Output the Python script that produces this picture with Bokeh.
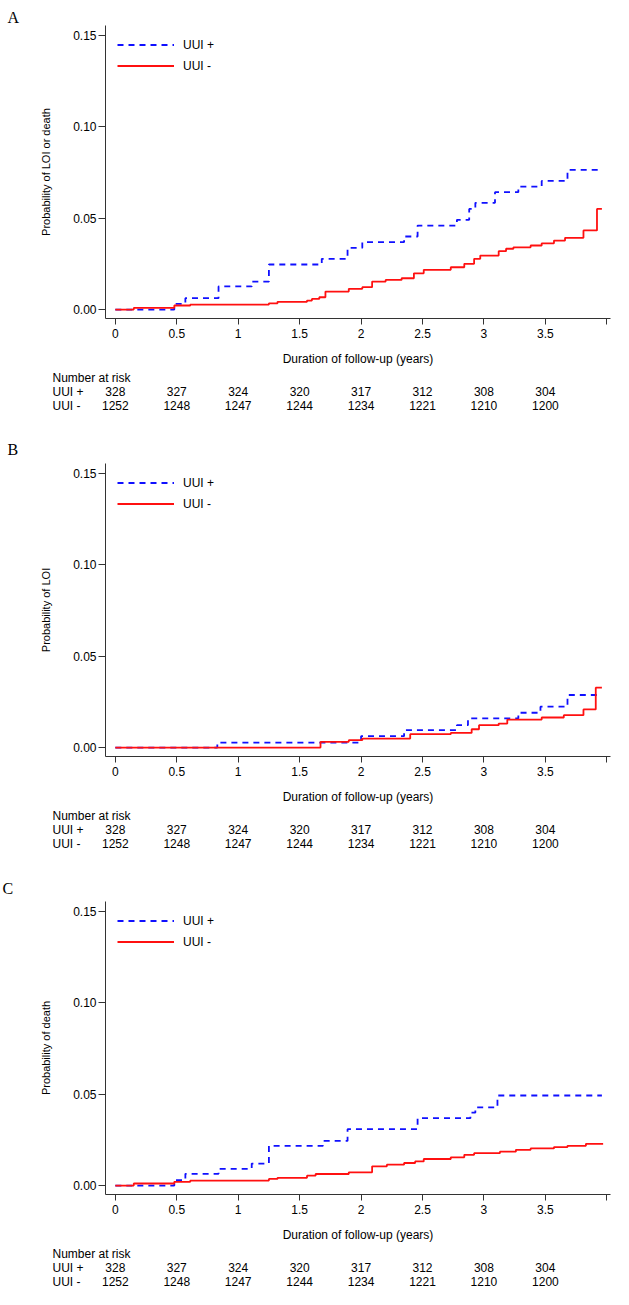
from bokeh.plotting import figure
from bokeh.models import Range1d, FixedTicker, Legend, LegendItem, Title
from bokeh.layouts import column
from bokeh.embed import file_html
from bokeh.resources import INLINE
from bokeh.core.properties import value

# ---------------- data ----------------
panel_letters = ["A", "B", "C"]
y_titles = ["Probability of LOI or death", "Probability of LOI", "Probability of death"]
x_title = "Duration of follow-up (years)"
legend_labels = ["UUI +", "UUI -"]

x_ticks = [0, 0.5, 1, 1.5, 2, 2.5, 3, 3.5, 4]
x_tick_labels = ["0", "0.5", "1", "1.5", "2", "2.5", "3", "3.5", ""]
y_ticks = [0, 0.05, 0.10, 0.15]
y_tick_labels = ["0.00", "0.05", "0.10", "0.15"]

risk_times = [0, 0.5, 1, 1.5, 2, 2.5, 3, 3.5]
risk_uui_pos = [328, 327, 324, 320, 317, 312, 308, 304]
risk_uui_neg = [1252, 1248, 1247, 1244, 1234, 1221, 1210, 1200]
risk_row_labels = ["Number at risk", "UUI +", "UUI -"]

# Panel A: LOI or death
a_pos_t = [0, 0.48, 0.57, 0.84, 1.11, 1.25, 1.68, 1.89, 2.01, 2.35, 2.46, 2.78, 2.88, 2.93, 3.09, 3.28, 3.47, 3.68, 3.96]
a_pos_v = [0, 0.0031, 0.0062, 0.0126, 0.0153, 0.0246, 0.0277, 0.0337, 0.0368, 0.0399, 0.0459, 0.049, 0.055, 0.0583, 0.0641, 0.0672, 0.0703, 0.0763, 0.0763]
a_neg_t = [0, 0.15, 0.48, 0.61, 1.25, 1.32, 1.56, 1.60, 1.66, 1.71, 1.90, 2.01, 2.09, 2.20, 2.33, 2.43, 2.51, 2.73, 2.84, 2.92, 2.97, 3.12, 3.18, 3.24, 3.38, 3.47, 3.57, 3.66, 3.81, 3.92, 3.96]
a_neg_v = [0, 0.0009, 0.0022, 0.0027, 0.0034, 0.0042, 0.0049, 0.0058, 0.0067, 0.0098, 0.0113, 0.0122, 0.0153, 0.0162, 0.0171, 0.0198, 0.0217, 0.0231, 0.025, 0.0277, 0.0295, 0.0319, 0.0332, 0.034, 0.035, 0.0362, 0.0377, 0.0392, 0.0432, 0.055, 0.055]

# Panel B: LOI
b_pos_t = [0, 0.83, 2.00, 2.35, 2.78, 2.87, 3.28, 3.46, 3.68, 3.92]
b_pos_v = [0, 0.0027, 0.0062, 0.0095, 0.0122, 0.0159, 0.019, 0.0223, 0.0287, 0.0287]
b_neg_t = [0, 1.67, 1.90, 2.01, 2.40, 2.73, 2.90, 2.96, 3.12, 3.19, 3.47, 3.65, 3.81, 3.91, 3.96]
b_neg_v = [0, 0.0031, 0.004, 0.0049, 0.0073, 0.008, 0.01, 0.0122, 0.0131, 0.0153, 0.0164, 0.0177, 0.0208, 0.0327, 0.0327]

# Panel C: death
c_pos_t = [0, 0.48, 0.57, 0.84, 1.11, 1.25, 1.69, 1.89, 2.46, 2.89, 2.93, 3.11, 3.96]
c_pos_v = [0, 0.0029, 0.0064, 0.0091, 0.012, 0.0217, 0.0244, 0.0308, 0.0368, 0.0398, 0.0427, 0.0492, 0.0492]
c_neg_t = [0, 0.15, 0.48, 0.61, 1.25, 1.32, 1.56, 1.63, 1.90, 2.09, 2.21, 2.35, 2.44, 2.51, 2.73, 2.84, 2.92, 3.13, 3.26, 3.38, 3.57, 3.68, 3.83, 3.97]
c_neg_v = [0, 0.0011, 0.002, 0.0027, 0.0036, 0.0042, 0.0054, 0.0063, 0.0072, 0.0105, 0.0114, 0.0123, 0.0132, 0.0145, 0.0154, 0.0168, 0.0177, 0.0185, 0.0195, 0.0203, 0.021, 0.0217, 0.0228, 0.0228]

series = [
    (a_pos_t, a_pos_v, a_neg_t, a_neg_v),
    (b_pos_t, b_pos_v, b_neg_t, b_neg_v),
    (c_pos_t, c_pos_v, c_neg_t, c_neg_v),
]

# ---------------- layout / style ----------------
W = 629
FL = 105         # frame left border
FR = 19          # frame right border
FW = W - FL - FR
FH = 293
X0, X1 = -0.08, 4.03
Y0, Y1 = -0.0049, 0.1552
main_top = [25, 35, 35]
letter_offset = [-98, -98, -103]
letter_standoff = [0, 12, 10]
main_bottom = [110, 110, 109]
row_px = 14          # pixel distance between table rows
row_first = 59       # first table row below the frame bottom (px)

SANS = "Liberation Sans"
SERIF = "Liberation Serif"
BLUE = "#1010ff"
RED = "#ff1010"
AXIS = "#333333"

ppu = FW / (X1 - X0)
row_label_x = X0 - (FL - 52) / ppu
risk_start = 2 + row_first / row_px
risk_end = risk_start + FH / row_px

children = []
for i in range(3):
    pt, pv, nt, nv = series[i]
    p = figure(frame_width=FW, frame_height=FH,
               x_range=Range1d(X0, X1), y_range=Range1d(Y0, Y1),
               min_border_left=FL, min_border_right=FR,
               min_border_top=main_top[i], min_border_bottom=main_bottom[i],
               output_backend="svg", toolbar_location=None)
    p.extra_y_ranges = {"risk": Range1d(risk_start, risk_end)}
    p.outline_line_color = None
    p.grid.visible = False
    p.background_fill_color = "white"
    p.border_fill_color = "white"

    r_pos = p.step(pt, pv, mode="after", line_color=BLUE, line_width=1.8, line_dash="6 5")
    r_neg = p.step(nt, nv, mode="after", line_color=RED, line_width=1.8)

    xa = p.xaxis[0]
    xa.ticker = FixedTicker(ticks=x_ticks)
    xa.major_label_overrides = {t: l for t, l in zip(x_ticks, x_tick_labels)}
    xa.minor_tick_line_color = None
    xa.major_tick_in = 0
    xa.major_tick_out = 6
    xa.major_label_standoff = 4
    xa.axis_label = x_title
    xa.axis_label_standoff = 11
    xa.axis_label_text_font = SANS
    xa.axis_label_text_font_size = "12px"
    xa.axis_label_text_font_style = "normal"
    xa.axis_label_text_color = "black"
    xa.major_label_text_font = SANS
    xa.major_label_text_font_size = "12px"
    xa.major_label_text_color = "black"
    xa.axis_line_color = AXIS
    xa.major_tick_line_color = AXIS

    ya = p.yaxis[0]
    ya.ticker = FixedTicker(ticks=y_ticks)
    ya.major_label_overrides = {t: l for t, l in zip(y_ticks, y_tick_labels)}
    ya.minor_tick_line_color = None
    ya.major_tick_in = 0
    ya.major_tick_out = 7
    ya.major_label_standoff = 2
    ya.axis_label = y_titles[i]
    ya.axis_label_standoff = 18
    ya.axis_label_text_font = SANS
    ya.axis_label_text_font_size = "11px"
    ya.axis_label_text_font_style = "normal"
    ya.axis_label_text_color = "black"
    ya.major_label_text_font = SANS
    ya.major_label_text_font_size = "12px"
    ya.major_label_text_color = "black"
    ya.axis_line_color = AXIS
    ya.major_tick_line_color = AXIS

    legend = Legend(items=[LegendItem(label=legend_labels[0], renderers=[r_pos]),
                           LegendItem(label=legend_labels[1], renderers=[r_neg])],
                    location=(12, FH - 9 - 42),
                    glyph_width=57, glyph_height=21, label_height=21,
                    label_standoff=9, spacing=0, padding=0, margin=0,
                    border_line_alpha=0, background_fill_alpha=0,
                    label_text_font=SANS, label_text_font_size="12px",
                    label_text_color="black")
    p.add_layout(legend)

    p.add_layout(Title(text=panel_letters[i], align="left", offset=letter_offset[i],
                       standoff=letter_standoff[i], text_font=SERIF,
                       text_font_size="16px", text_font_style="normal",
                       text_color="black"), "above")

    # number-at-risk table, drawn below the frame on its own row scale
    txt = dict(text_baseline="middle", text_font=value(SANS), text_font_size="12px",
               text_color="black", y_range_name="risk", level="overlay")
    p.text(x=[row_label_x] * 3, y=[2, 1, 0], text=risk_row_labels, text_align="left", **txt)
    p.text(x=risk_times, y=[1] * len(risk_times), text=[str(v) for v in risk_uui_pos],
           text_align="center", **txt)
    p.text(x=risk_times, y=[0] * len(risk_times), text=[str(v) for v in risk_uui_neg],
           text_align="center", **txt)
    children.append(p)

layout = column(children, spacing=0)
open("out.html", "w").write(file_html(layout, INLINE))
